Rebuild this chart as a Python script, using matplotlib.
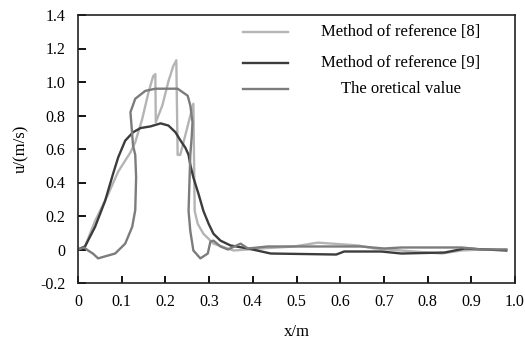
import matplotlib
matplotlib.use("Agg")
import matplotlib.pyplot as plt

plt.rcParams['font.family'] = ['Liberation Serif', 'DejaVu Serif']

# velocity profiles along x
x_ref8 = [0, 0.016, 0.039, 0.069, 0.092, 0.120, 0.131, 0.147, 0.161, 0.172, 0.177,
          0.178, 0.193, 0.207, 0.218, 0.225, 0.228, 0.234, 0.264, 0.267, 0.274,
          0.287, 0.310, 0.343, 0.356, 0.418, 0.494, 0.549, 0.641, 0.678, 0.832,
          0.878, 0.924, 0.98]
u_ref8 = [0, 0.018, 0.17, 0.33, 0.465, 0.58, 0.64, 0.78, 0.935, 1.035, 1.047,
          0.76, 0.86, 1.005, 1.095, 1.13, 0.565, 0.565, 0.87, 0.23, 0.153,
          0.094, 0.035, 0.006, -0.006, 0.006, 0.018, 0.041, 0.024, 0.006, -0.024,
          -0.006, 0, 0]

x_ref9 = [0, 0.016, 0.039, 0.062, 0.080, 0.092, 0.108, 0.126, 0.143, 0.166, 0.189,
          0.207, 0.223, 0.234, 0.246, 0.253, 0.257, 0.264, 0.276, 0.287, 0.299,
          0.310, 0.326, 0.349, 0.389, 0.441, 0.591, 0.609, 0.694, 0.740, 0.839,
          0.885, 0.98]
u_ref9 = [0, 0.018, 0.135, 0.29, 0.45, 0.55, 0.65, 0.70, 0.725, 0.735, 0.753,
          0.74, 0.70, 0.653, 0.606, 0.565, 0.506, 0.43, 0.33, 0.23, 0.153,
          0.094, 0.053, 0.024, 0.006, -0.024, -0.03, -0.012, -0.012, -0.024, -0.018,
          0.006, -0.006]

x_theory = [0, 0.014, 0.023, 0.034, 0.046, 0.062, 0.085, 0.108, 0.124, 0.131, 0.133,
            0.131, 0.126, 0.120, 0.131, 0.154, 0.177, 0.228, 0.251, 0.257, 0.262,
            0.260, 0.257, 0.253, 0.257, 0.264, 0.280, 0.297, 0.303, 0.310, 0.326,
            0.343, 0.372, 0.389, 0.434, 0.648, 0.701, 0.74, 0.878, 0.924, 0.98]
u_theory = [0, 0.012, -0.006, -0.024, -0.053, -0.041, -0.024, 0.035, 0.135, 0.235, 0.43,
            0.565, 0.62, 0.82, 0.90, 0.947, 0.96, 0.96, 0.918, 0.86, 0.76,
            0.665, 0.565, 0.23, 0.11, -0.006, -0.053, -0.024, 0.047, 0.053, 0.018,
            0, 0.035, 0.006, 0.018, 0.018, 0.006, 0.012, 0.012, 0, 0]

labels = ['Method of reference [8]', 'Method of reference [9]', 'The oretical value']
colors = ['#b4b4b4', '#3c3c3c', '#7c7c7c']

fig = plt.figure(figsize=(5.25, 3.43), dpi=100)
ax = fig.add_axes([78 / 525, 1 - 283 / 343, 437 / 525, 268 / 343])

series = [(x_ref8, u_ref8), (x_ref9, u_ref9), (x_theory, u_theory)]
for (xs, us), c in zip(series, colors):
    ax.plot(xs, us, color=c, lw=1.7, solid_joinstyle='round')

ax.set_xlim(0, 1.0)
ax.set_ylim(-0.2, 1.4)
ax.set_xticks([i / 10 for i in range(11)])
ax.set_xticklabels(['0'] + ['%.1f' % (i / 10) for i in range(1, 11)])
ax.set_yticks([-0.2, 0, 0.2, 0.4, 0.6, 0.8, 1.0, 1.2, 1.4])
ax.set_yticklabels(['-0.2', '0', '0.2', '0.4', '0.6', '0.8', '1.0', '1.2', '1.4'])
ax.tick_params(axis='y', direction='in', length=6, width=1.3, pad=9, labelsize=11.5)
ax.tick_params(axis='x', direction='in', length=5, width=1.3, pad=8, labelsize=11.5)
for s in ax.spines.values():
    s.set_linewidth(1.2)
    s.set_color('#222222')

ax.set_xlabel('x/m', fontsize=12, labelpad=10)
ax.set_ylabel('u/(m/s)', fontsize=12, labelpad=8)

# legend drawn by hand so the entry text sits centred
ys = [0.935, 0.82, 0.725]
for y, c, t in zip(ys, colors, labels):
    ax.plot([0.378, 0.48], [y, y], color=c, lw=1.7, transform=ax.transAxes)
    ax.text(0.739, y, t, transform=ax.transAxes, ha='center', va='center',
            fontsize=12)

fig.savefig('out.png', dpi=100)
